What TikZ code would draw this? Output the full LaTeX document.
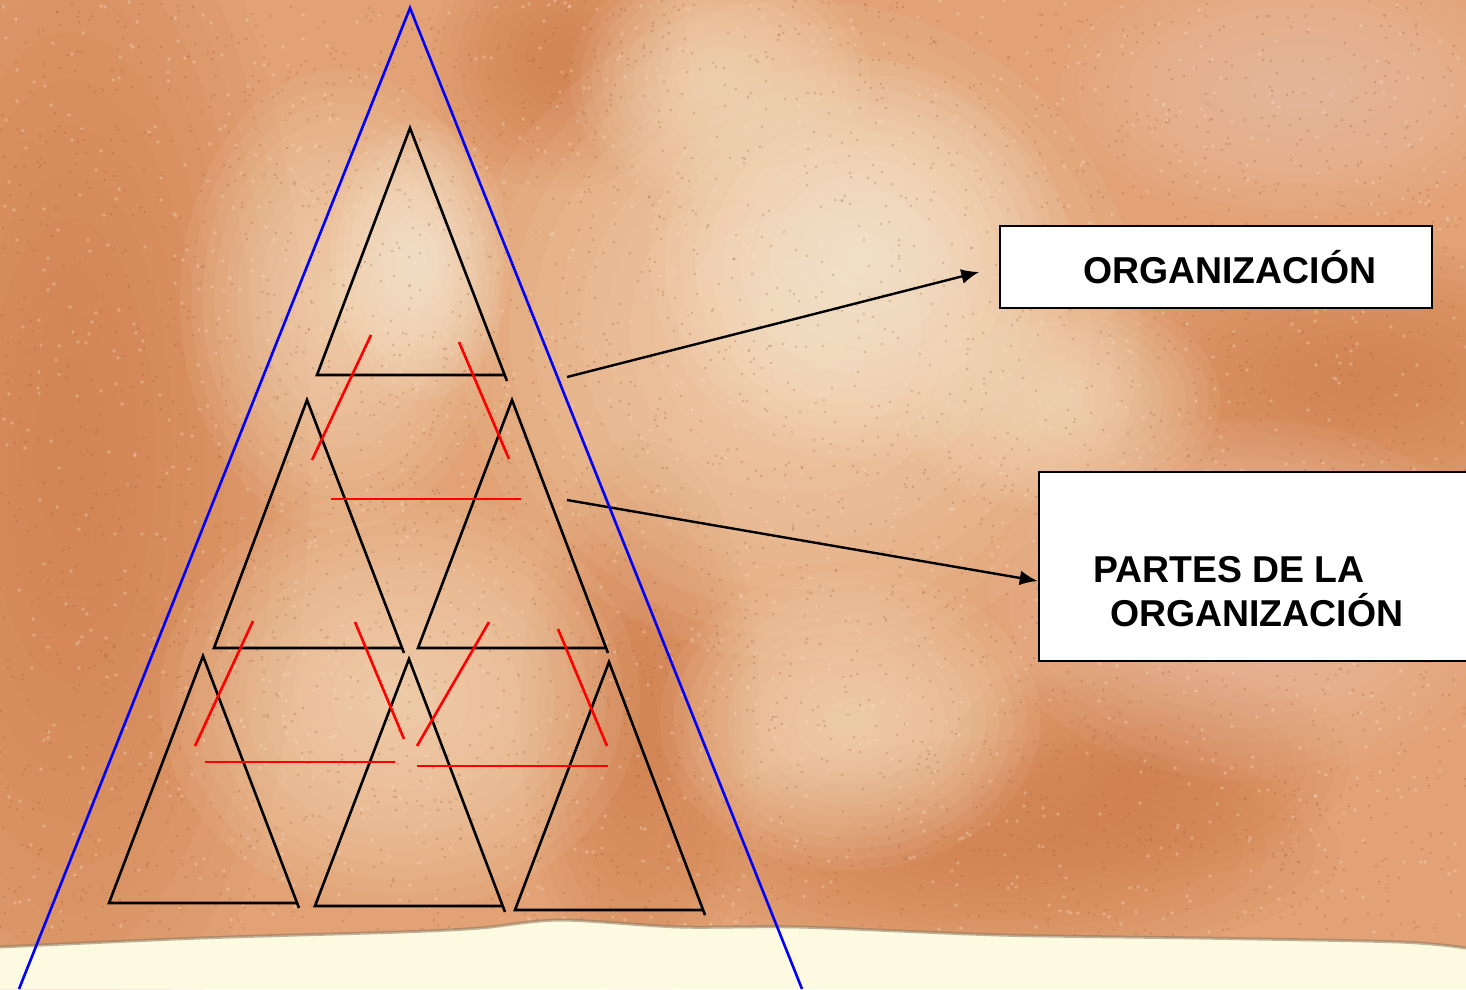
\documentclass[tikz,border=0pt]{standalone}
\usepackage{fontspec}
\setmainfont{Liberation Sans}
\usetikzlibrary{arrows.meta}
\definecolor{bgmid}{RGB}{226,162,118}
\definecolor{bgdark}{RGB}{208,124,74}
\definecolor{bglight}{RGB}{248,226,196}
\definecolor{bglighter}{RGB}{252,242,222}
\definecolor{bgpink}{RGB}{240,198,176}
\definecolor{pale}{RGB}{252,250,224}
\definecolor{fringe}{RGB}{140,118,96}
\definecolor{speck}{RGB}{150,88,48}
\definecolor{speckl}{RGB}{250,225,200}
\definecolor{bluel}{RGB}{0,0,255}
\definecolor{redl}{RGB}{255,0,0}
\newcommand\softpatch[5]{%
  \foreach \k in {1,...,14}{%
    \fill[#1, opacity=0.08] (#2,#3) ellipse ({#4*\k/14} and {#5*\k/14});
  }%
}
\tikzset{
  tri/.style={draw=black, line width=2.6pt, line join=miter},
  redseg/.style={draw=redl, line width=2.6pt},
  blueseg/.style={draw=bluel, line width=2.6pt},
  box/.style={draw=black, line width=2.6pt, fill=white, inner sep=0pt},
  lbl/.style={inner sep=0pt, font=\fontsize{37.4pt}{40pt}\selectfont\bfseries},
  arr/.style={draw=black, line width=2.4pt, -{Latex[length=18pt,width=15pt]}}
}
\begin{document}
\begin{tikzpicture}[x=1pt,y=-1pt]
\useasboundingbox (0,0) rectangle (1466,989);
\clip (0,0) rectangle (1466,989);
% parchment
\fill[bgmid] (0,0) rectangle (1466,989);
\softpatch{bgdark}{70}{450}{240}{650}
\softpatch{bgdark}{1360}{380}{280}{140}
\softpatch{bgdark}{1000}{850}{340}{110}
\softpatch{bgdark}{640}{720}{120}{280}
\softpatch{bgdark}{560}{60}{130}{130}
\softpatch{bgdark}{1150}{760}{200}{120}
\softpatch{bglight}{800}{330}{340}{330}
\softpatch{bglighter}{860}{260}{210}{200}
\softpatch{bglight}{340}{300}{160}{230}
\softpatch{bglighter}{420}{260}{90}{140}
\softpatch{bglight}{400}{700}{240}{210}
\softpatch{bglight}{850}{720}{190}{150}
\softpatch{bglight}{1060}{400}{160}{110}
\softpatch{bgpink}{1300}{90}{240}{130}
\softpatch{bglight}{720}{80}{150}{120}
\softpatch{bgpink}{1250}{600}{260}{180}
\begin{scope}[fill opacity=0.28]
\pgfmathsetseed{7}
\foreach \i in {1,...,3500}{
  \pgfmathsetmacro{\px}{random(0,1466)}
  \pgfmathsetmacro{\py}{random(0,935)}
  \fill[speck] (\px,\py) circle (1.3);
}
\end{scope}
\begin{scope}[fill opacity=0.35]
\pgfmathsetseed{11}
\foreach \i in {1,...,1500}{
  \pgfmathsetmacro{\px}{random(0,1466)}
  \pgfmathsetmacro{\py}{random(0,935)}
  \fill[speckl] (\px,\py) circle (1.8);
}
\end{scope}
% pale band at the bottom
\fill[pale] plot[smooth] coordinates {(0,947) (200,938) (400,932) (480,928) (560,920) (680,927) (800,927) (1000,935) (1200,938) (1400,942) (1466,948)} -- (1466,989) -- (0,989) -- cycle;
\draw[fringe, line width=3pt, opacity=0.55] plot[smooth] coordinates {(0,947) (200,938) (400,932) (480,928) (560,920) (680,927) (800,927) (1000,935) (1200,938) (1400,942) (1466,948)};
% boxes
\node[box, minimum width=432pt, minimum height=82pt] (org) at (1216,267) {};
\node[lbl, anchor=base west] (orgt) at (1083,283) {ORGANIZACIÓN};
\node[box, minimum width=441pt, minimum height=189pt] (parts) at (1259.5,566.5) {};
\node[lbl, anchor=base west] (pt1) at (1093,582) {PARTES DE LA};
\node[lbl, anchor=base west] (pt2) at (1110,626) {ORGANIZACIÓN};
% arrows
\coordinate (a1s) at (567,377);
\coordinate (a2s) at (567,500);
\coordinate (a2e) at ([yshift=-14.5pt]parts.west);
\draw[arr, shorten >=20pt] (a1s) -- (org.west);
\draw[arr] (a2s) -- (a2e);
% black triangles
\draw[tri] (507,381) -- (410,128) -- (317,375) -- (505,375);
\draw[tri] (404,653) -- (307,400) -- (214,648) -- (402,648);
\draw[tri] (608,653) -- (512,400) -- (418,648) -- (606,648);
\draw[tri] (299,908) -- (203,656) -- (109,903) -- (297,903);
\draw[tri] (505,912) -- (409,659) -- (315,906) -- (503,906);
\draw[tri] (705,915) -- (609,662) -- (515,910) -- (703,910);
% red segments
\draw[redseg] (371,335) -- (312,460);
\draw[redseg] (459,342) -- (509,459);
\draw[redseg] (331,499) -- (521,499);
\draw[redseg] (253,621) -- (195,746);
\draw[redseg] (355,622) -- (404,739);
\draw[redseg] (205,762) -- (395,762);
\draw[redseg] (489,622) -- (417,746);
\draw[redseg] (558,629) -- (607,746);
\draw[redseg] (417,766) -- (608,766);
% blue outer triangle
\coordinate (bapex) at (410,8);
\coordinate (bl) at (19,989);
\coordinate (br) at (802,989);
\draw[blueseg] (bl) -- (bapex) -- (br);
\end{tikzpicture}
\end{document}
